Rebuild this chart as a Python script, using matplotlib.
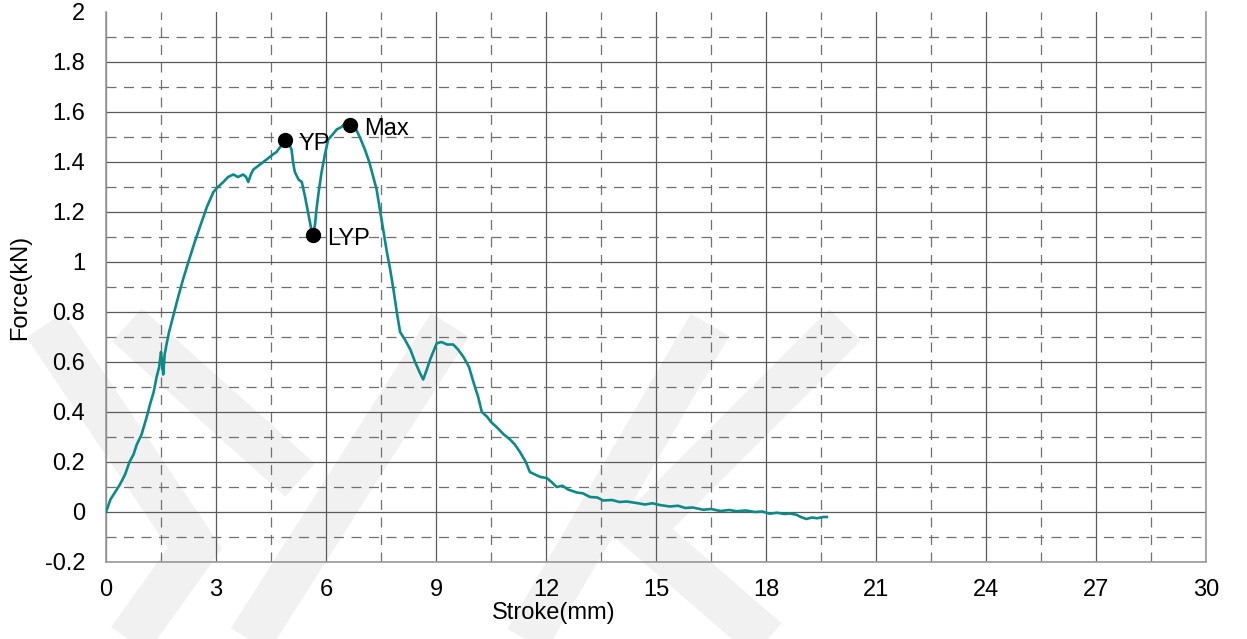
import matplotlib
matplotlib.use("Agg")
import matplotlib.pyplot as plt
from matplotlib.lines import Line2D
from matplotlib.ticker import MultipleLocator

plt.rcParams["font.family"] = ["Liberation Sans", "DejaVu Sans"]

# force-stroke curve
stroke = [0.0, 0.12, 0.25, 0.38, 0.52, 0.64, 0.75, 0.84, 0.97, 1.11, 1.2, 1.3,
          1.38, 1.45, 1.50, 1.53, 1.56, 1.60, 1.65, 1.72, 1.79, 1.88, 1.95,
          2.1, 2.29, 2.42, 2.56, 2.75, 2.93, 3.05, 3.2, 3.33, 3.47, 3.6, 3.74,
          3.82, 3.88, 3.95, 4.02, 4.2, 4.38, 4.55, 4.65, 4.75, 4.85, 4.93,
          5.0, 5.06, 5.1, 5.15, 5.25, 5.34, 5.43, 5.52, 5.60, 5.65, 5.70,
          5.74, 5.80, 5.88, 5.97, 6.06, 6.18, 6.29, 6.42, 6.56, 6.65, 6.72,
          6.79, 6.92, 7.06, 7.18, 7.29, 7.38, 7.47, 7.56, 7.66, 7.75, 7.84,
          7.93, 8.02, 8.15, 8.3, 8.43, 8.55, 8.65, 8.75, 8.84, 8.95, 9.02,
          9.15, 9.3, 9.47, 9.6, 9.75, 9.9, 10.02, 10.15, 10.25, 10.4, 10.5,
          10.65, 10.85, 11.02, 11.15, 11.29, 11.45, 11.56, 11.7, 11.85,
          12.02, 12.15, 12.29, 12.45, 12.6, 12.84, 13.0, 13.2, 13.4, 13.56,
          13.8, 14.0, 14.2, 14.47, 14.7, 14.9, 15.1, 15.38, 15.6, 15.8, 16.0,
          16.29, 16.5, 16.75, 17.0, 17.2, 17.45, 17.7, 17.9, 18.1, 18.3,
          18.5, 18.65, 18.83, 18.95, 19.1, 19.25, 19.4, 19.56, 19.66]
force = [0.0, 0.05, 0.08, 0.11, 0.15, 0.20, 0.23, 0.27, 0.31, 0.38, 0.43, 0.48,
         0.54, 0.58, 0.64, 0.60, 0.55, 0.63, 0.67, 0.72, 0.76, 0.81, 0.85,
         0.93, 1.02, 1.08, 1.14, 1.22, 1.28, 1.30, 1.32, 1.34, 1.35, 1.34, 1.35,
         1.34, 1.32, 1.35, 1.37, 1.39, 1.41, 1.43, 1.44, 1.46, 1.47, 1.49,
         1.47, 1.45, 1.40, 1.36, 1.33, 1.32, 1.26, 1.19, 1.13, 1.11, 1.15,
         1.21, 1.28, 1.36, 1.43, 1.49, 1.51, 1.53, 1.54, 1.56, 1.55, 1.56,
         1.54, 1.50, 1.45, 1.40, 1.34, 1.29, 1.21, 1.13, 1.04, 0.97, 0.89,
         0.80, 0.72, 0.69, 0.65, 0.60, 0.56, 0.53, 0.57, 0.61, 0.65, 0.675,
         0.68, 0.67, 0.67, 0.65, 0.62, 0.58, 0.52, 0.46, 0.40, 0.38, 0.36,
         0.34, 0.31, 0.29, 0.27, 0.24, 0.20, 0.16, 0.15, 0.14,
         0.136, 0.12, 0.10, 0.105, 0.09, 0.078, 0.075, 0.06, 0.058, 0.046,
         0.048, 0.04, 0.042, 0.036, 0.03, 0.035, 0.028, 0.022, 0.025, 0.016,
         0.018, 0.009, 0.012, 0.004, 0.008, 0.003, 0.006, 0.0, 0.002,
         -0.007, -0.003, -0.008, -0.006, -0.011, -0.02, -0.028, -0.022,
         -0.025, -0.02, -0.02]

point_names = ["YP", "LYP", "Max"]
point_x = [4.88, 5.64, 6.65]
point_y = [1.49, 1.11, 1.55]

x_ticks = list(range(0, 31, 3))
y_ticks = [-0.2, 0, 0.2, 0.4, 0.6, 0.8, 1, 1.2, 1.4, 1.6, 1.8, 2]
y_tick_labels = ["-0.2", "0", "0.2", "0.4", "0.6", "0.8", "1", "1.2", "1.4",
                 "1.6", "1.8", "2"]

W, H = 1247, 639
fig = plt.figure(figsize=(W / 100, H / 100), dpi=100)
fig.patch.set_facecolor("white")

# faint watermark bands, drawn in figure pixels behind the axes
bands = [
    [(45, 325), (195, 548), (115, 660)],
    [(127, 325), (300, 480)],
    [(237, 660), (450, 325)],
    [(515, 660), (710, 325)],
    [(845, 325), (640, 530), (790, 660)],
]
for band in bands:
    bx = [p[0] / W for p in band]
    by = [1 - p[1] / H for p in band]
    fig.add_artist(Line2D(bx, by, transform=fig.transFigure, color="#f1f1f1",
                          lw=32, solid_joinstyle="miter",
                          solid_capstyle="butt", zorder=-5))

ax = fig.add_axes([106 / W, 1 - 562 / H, 1100 / W, 550 / H])
ax.patch.set_alpha(0)

ax.plot(stroke, force, color="#0d8a87", lw=1.9, zorder=3)
ax.plot(point_x, point_y, "o", color="black", ms=10, zorder=4)
for name, px, py in zip(point_names, point_x, point_y):
    ax.annotate(name, (px, py), xytext=(10, -3), textcoords="offset points",
                va="center", ha="left", fontsize=17, zorder=5)

ax.set_xlim(0, 30)
ax.set_ylim(-0.2, 2)
ax.set_xticks(x_ticks)
ax.set_yticks(y_ticks)
ax.set_yticklabels(y_tick_labels)
ax.xaxis.set_minor_locator(MultipleLocator(1.5))
ax.yaxis.set_minor_locator(MultipleLocator(0.1))

ax.grid(which="major", color="#5a5a5a", lw=0.9, ls="-")
ax.grid(which="minor", color="#707070", lw=0.9, ls=(0, (8, 6)))
ax.set_axisbelow(True)
ax.tick_params(which="both", length=0)
ax.tick_params(axis="x", labelsize=17, pad=12)
ax.tick_params(axis="y", labelsize=17, pad=15)

ax.spines["top"].set_visible(False)
for side in ["left", "right", "bottom"]:
    ax.spines[side].set_color("#999999")
    ax.spines[side].set_linewidth(1.2)

ax.set_xlabel("Stroke(mm)", fontsize=17)
ax.set_ylabel("Force(kN)", fontsize=17)
ax.xaxis.set_label_coords(0.407, -0.072)
ax.yaxis.set_label_coords(-0.068, 0.5)

fig.canvas.draw()
ax.yaxis.get_gridlines()[-1].set_visible(False)

fig.savefig("out.png", dpi=100)
